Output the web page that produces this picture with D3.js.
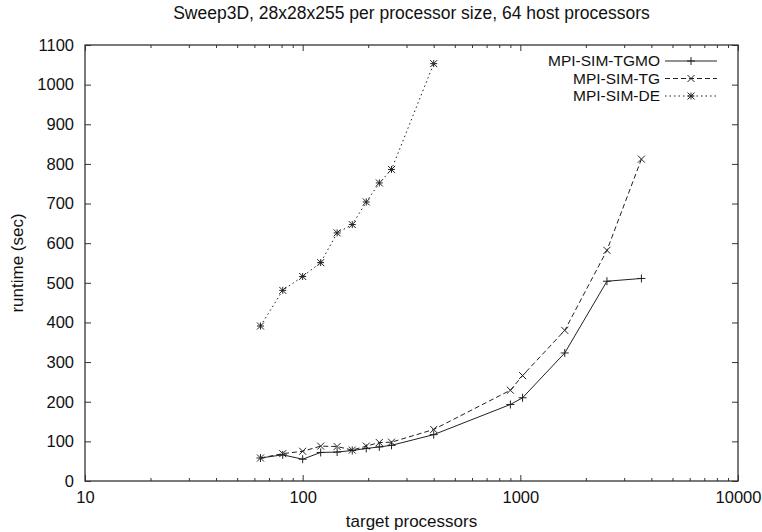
<!DOCTYPE html>
<html>
<head>
<meta charset="utf-8">
<script src="https://cdn.jsdelivr.net/npm/d3@7"></script>
<style>
  body { margin: 0; background: #fff; }
  svg { font-family: "Liberation Sans", Arial, sans-serif; }
  .axis path { display: none; }
  .axis line { stroke: #333; }
</style>
</head>
<body>
<svg id="chart" width="762" height="532"></svg>
<script>
// target processor counts
var xTgmo = [64, 81, 100, 121, 144, 169, 196, 225, 256, 400, 900, 1024, 1600, 2500, 3600];
var yTgmo = [58, 66, 55, 72, 73, 77, 82, 86, 90, 117, 193, 210, 323, 504, 511];
var xTg = [64, 81, 100, 121, 144, 169, 196, 225, 256, 400, 900, 1024, 1600, 2500, 3600];
var yTg = [58, 69, 75, 88, 87, 78, 88, 97, 98, 130, 229, 266, 380, 582, 812];
var xDe = [64, 81, 100, 121, 144, 169, 196, 225, 256, 400];
var yDe = [391, 481, 516, 551, 626, 647, 704, 752, 786, 1053];
var seriesNames = ["MPI-SIM-TGMO", "MPI-SIM-TG", "MPI-SIM-DE"];
var xMajor = [10, 100, 1000, 10000];
var yTicks = [0, 100, 200, 300, 400, 500, 600, 700, 800, 900, 1000, 1100];

var svg = d3.select("#chart"),
  margin = { top: 45, right: 24, bottom: 51, left: 85 };
var width = 762 - margin.left - margin.right,
  height = 532 - margin.top - margin.bottom;

var x = d3.scaleLog().domain([10, 10000]).range([0, width]),
  y = d3.scaleLinear().domain([0, 1100]).range([height, 0]);

var g = svg.append("g")
  .attr("transform", "translate(" + margin.left + "," + margin.top + ")");

// minor log ticks
var xMinor = [];
[10, 100, 1000].forEach(function(d) {
  for (var k = 2; k <= 9; k++) xMinor.push(d * k);
});

g.append("g").attr("class", "axis")
  .attr("transform", "translate(0," + height + ")")
  .call(d3.axisBottom(x).tickValues(xMinor).tickSize(-3).tickFormat(""));
g.append("g").attr("class", "axis")
  .call(d3.axisTop(x).tickValues(xMinor).tickSize(-3).tickFormat(""));

var xAxis = g.append("g").attr("class", "axis")
  .attr("transform", "translate(0," + height + ")")
  .call(d3.axisBottom(x).tickValues(xMajor).tickSize(-6).tickPadding(10).tickFormat(d3.format("d")));
xAxis.selectAll("text").attr("font-size", 16.5).attr("fill", "#111");
g.append("g").attr("class", "axis")
  .call(d3.axisTop(x).tickValues(xMajor).tickSize(-6).tickFormat(""));

var yAxis = g.append("g").attr("class", "axis")
  .call(d3.axisLeft(y).tickValues(yTicks).tickSize(-6).tickPadding(11).tickFormat(d3.format("d")));
yAxis.selectAll("text").attr("font-size", 16.5).attr("fill", "#111");
g.append("g").attr("class", "axis")
  .attr("transform", "translate(" + width + ",0)")
  .call(d3.axisRight(y).tickValues(yTicks).tickSize(-6).tickFormat(""));

g.append("rect")
  .attr("width", width)
  .attr("height", height)
  .attr("fill", "none")
  .attr("stroke", "#333")
  .attr("stroke-width", 1.3);

svg.append("text")
  .attr("x", margin.left + width / 2)
  .attr("y", 19)
  .attr("text-anchor", "middle")
  .attr("font-size", 17.5)
  .attr("fill", "#111")
  .text("Sweep3D, 28x28x255 per processor size, 64 host processors");

svg.append("text")
  .attr("x", margin.left + width / 2)
  .attr("y", 527)
  .attr("text-anchor", "middle")
  .attr("font-size", 17)
  .attr("fill", "#111")
  .text("target processors");

svg.append("text")
  .attr("transform", "translate(23," + (margin.top + height / 2) + ") rotate(-90)")
  .attr("text-anchor", "middle")
  .attr("font-size", 17)
  .attr("fill", "#111")
  .text("runtime (sec)");

function markerPath(type, s) {
  var p = "";
  if (type === "plus" || type === "star") {
    p += "M" + (-s) + ",0H" + s + "M0," + (-s) + "V" + s;
  }
  if (type === "cross" || type === "star") {
    p += "M" + (-s) + "," + (-s) + "L" + s + "," + s + "M" + (-s) + "," + s + "L" + s + "," + (-s);
  }
  return p;
}

var series = [
  { name: seriesNames[0], xs: xTgmo, ys: yTgmo, dash: null, marker: "plus", size: 4 },
  { name: seriesNames[1], xs: xTg, ys: yTg, dash: "5,3", marker: "cross", size: 3.5 },
  { name: seriesNames[2], xs: xDe, ys: yDe, dash: "1.5,3", marker: "star", size: 3.5 }
];

var line = d3.line()
  .x(function(d) { return x(d[0]); })
  .y(function(d) { return y(d[1]); });

series.forEach(function(s) {
  var pts = s.xs.map(function(v, i) { return [v, s.ys[i]]; });
  g.append("path")
    .datum(pts)
    .attr("fill", "none")
    .attr("stroke", "#222")
    .attr("stroke-width", 1)
    .attr("stroke-dasharray", s.dash)
    .attr("d", line);
  g.selectAll(null)
    .data(pts)
    .enter().append("path")
    .attr("transform", function(d) { return "translate(" + x(d[0]) + "," + y(d[1]) + ")"; })
    .attr("d", markerPath(s.marker, s.size))
    .attr("stroke", "#222")
    .attr("stroke-width", 1)
    .attr("fill", "none");
});

// legend
var legend = g.append("g").attr("transform", "translate(" + (width - 78) + ",16)");
series.forEach(function(s, i) {
  var row = legend.append("g").attr("transform", "translate(0," + (i * 17.5) + ")");
  row.append("text")
    .attr("x", 0)
    .attr("y", 0)
    .attr("dy", "0.35em")
    .attr("text-anchor", "end")
    .attr("font-size", 15.5)
    .attr("fill", "#111")
    .text(s.name);
  row.append("line")
    .attr("x1", 5).attr("x2", 57)
    .attr("stroke", "#222")
    .attr("stroke-width", 1)
    .attr("stroke-dasharray", s.dash);
  row.append("path")
    .attr("transform", "translate(31,0)")
    .attr("d", markerPath(s.marker, s.size))
    .attr("stroke", "#222")
    .attr("fill", "none");
});
</script>
</body>
</html>
